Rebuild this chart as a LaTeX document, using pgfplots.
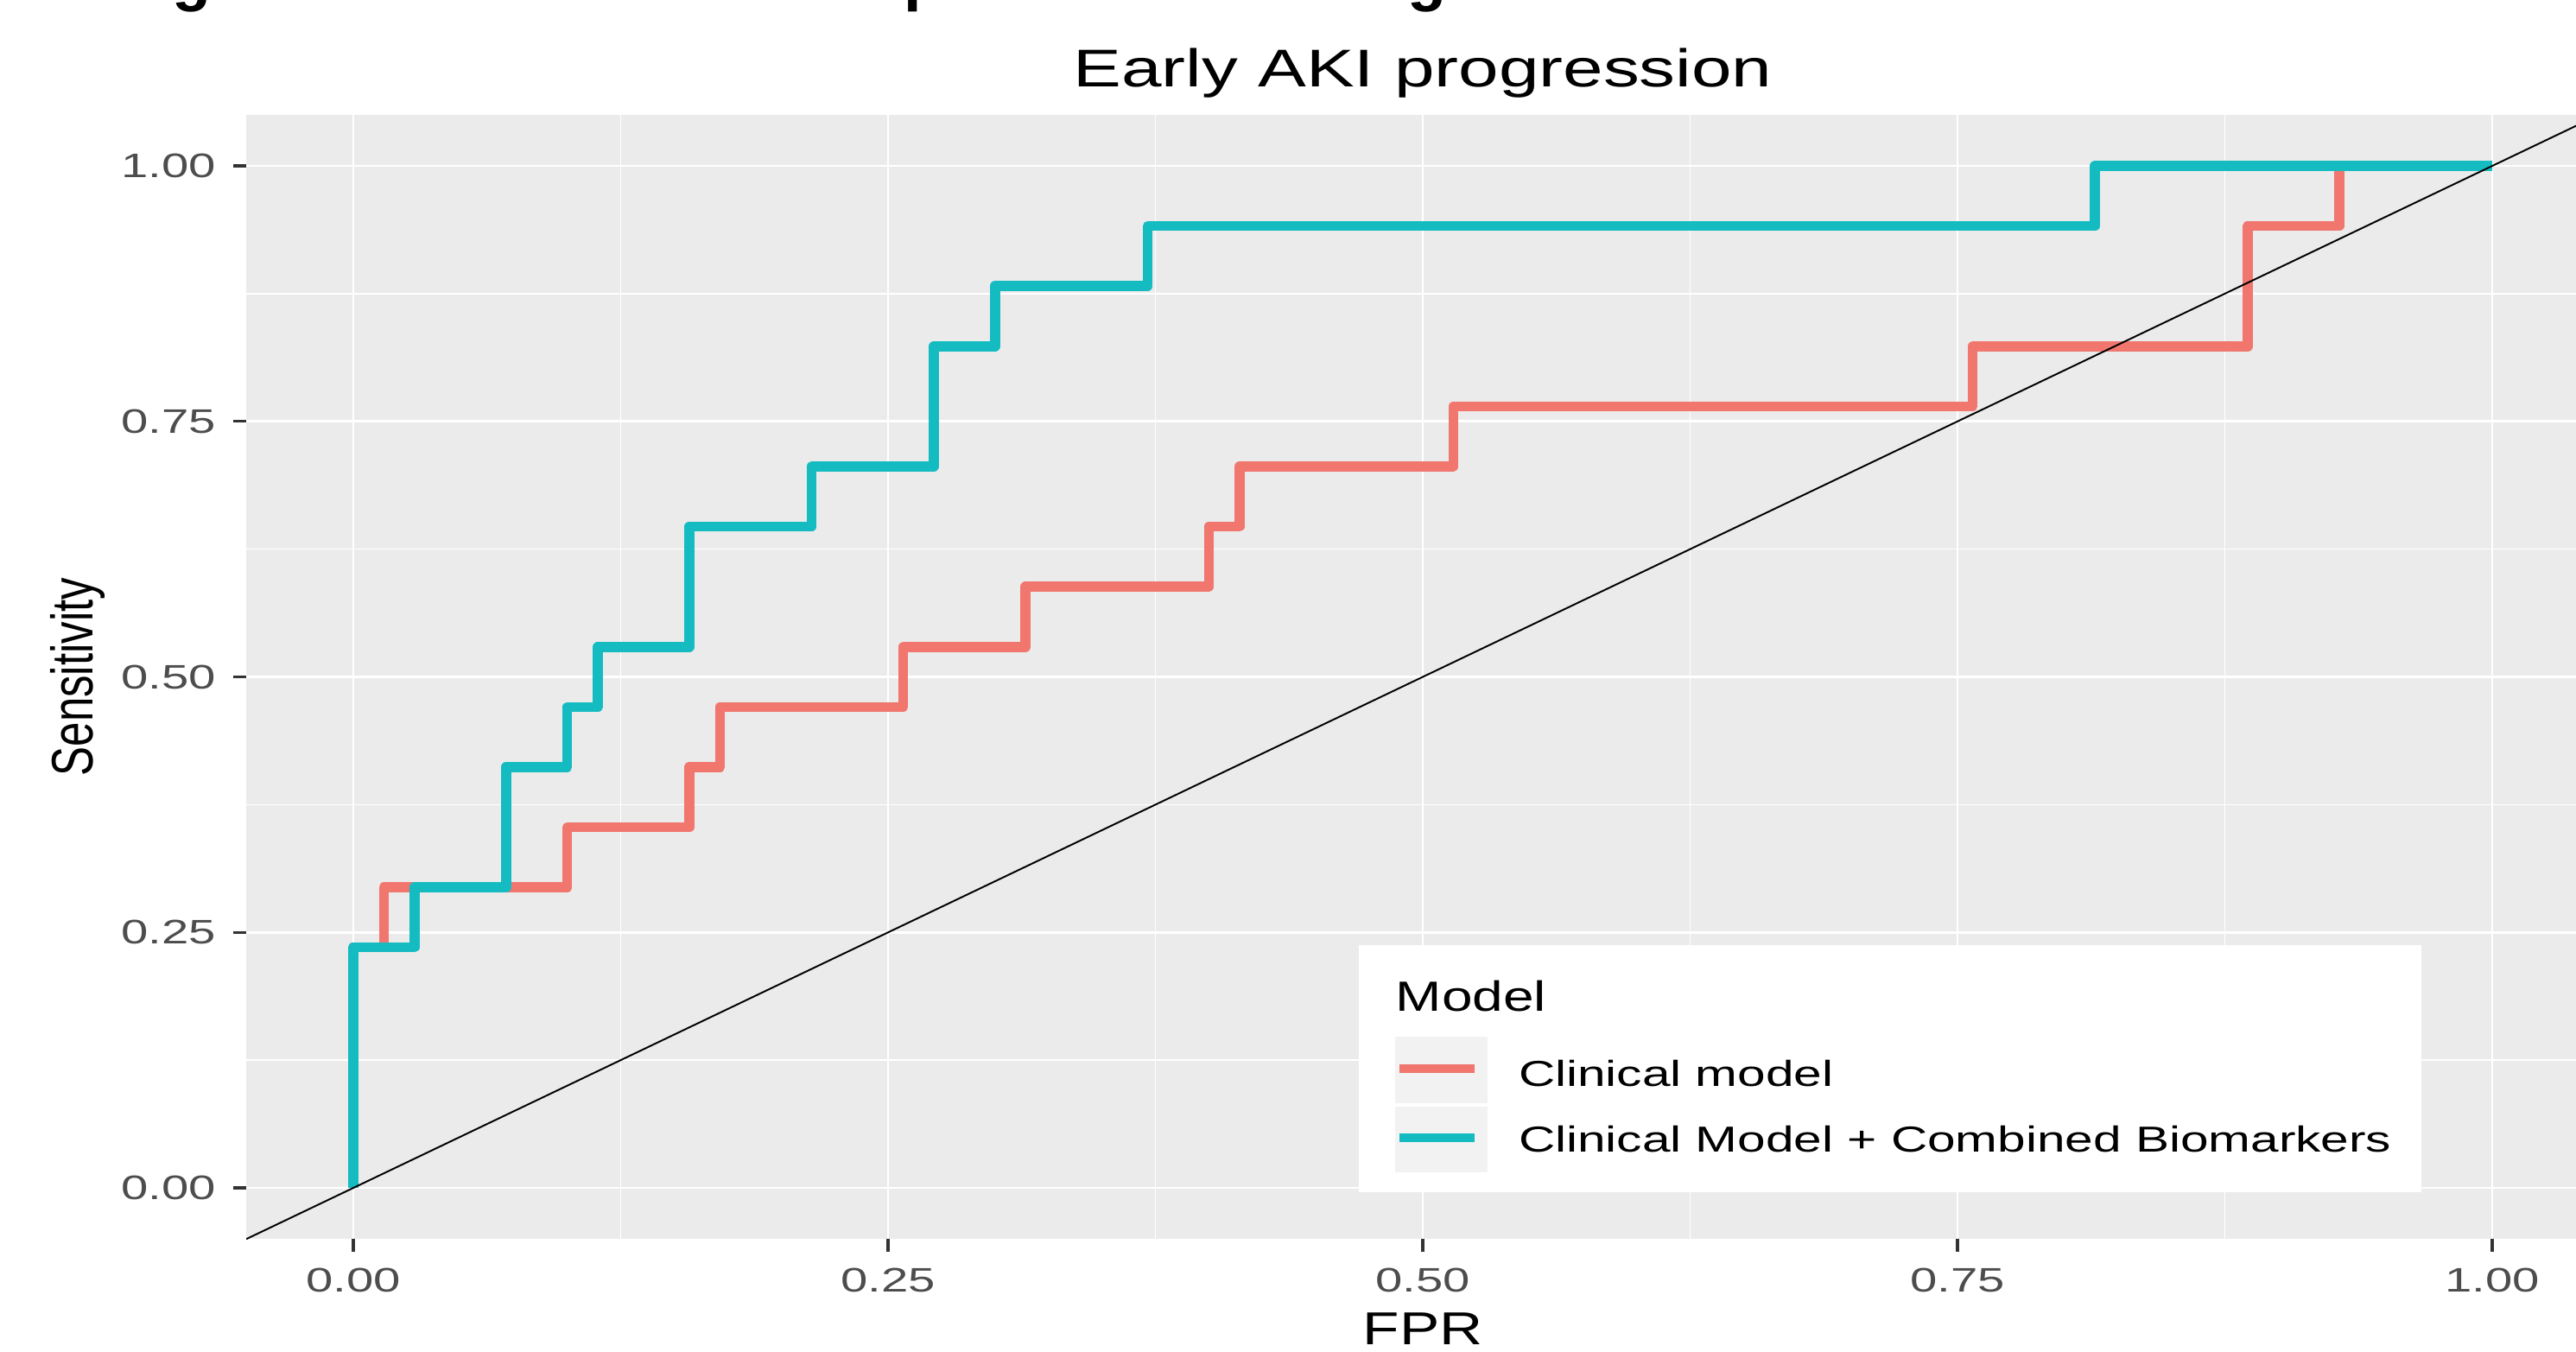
\documentclass[border=0pt]{standalone}
\usepackage{pgfplots}
\pgfplotsset{compat=1.18}
\usepackage{fontspec}
\setmainfont{Liberation Sans}
\definecolor{clin}{HTML}{F0766E}
\definecolor{comb}{HTML}{14BCC1}
\definecolor{panelbg}{HTML}{EBEBEB}
\definecolor{keybg}{HTML}{F2F2F2}
\definecolor{ticklab}{HTML}{4D4D4D}
\definecolor{tickcol}{HTML}{333333}
\begin{document}
\begin{tikzpicture}[x=1mm,y=1mm]
\useasboundingbox (0,0) rectangle (298.2,156.4);
\node[anchor=base west, inner sep=0pt, font=\fontsize{21}{25}\selectfont\bfseries] at (13.3,156.5) {Figure 4: ROC Curves for prediction of Stage 4 Death};
\begin{axis}[
  at={(28.52mm,12.98mm)}, anchor=south west,
  scale only axis, width=272.36mm, height=130.13mm,
  xmin=-0.05, xmax=1.05, ymin=-0.05, ymax=1.05,
  axis background/.style={fill=panelbg},
  axis line style={draw=none},
  tick align=outside, tick pos=left,
  major tick length=1.5mm, minor tick length=0pt,
  tick style={tickcol, line width=0.9pt},
  xtick={0,0.25,0.5,0.75,1}, ytick={0,0.25,0.5,0.75,1},
  xticklabels={0.00,0.25,0.50,0.75,1.00},
  yticklabels={0.00,0.25,0.50,0.75,1.00},
  minor tick num=1,
  grid=both,
  major grid style={white, line width=0.8pt},
  minor grid style={white, line width=0.4pt},
  ticklabel style={font=\fontsize{11.2}{13}\selectfont, text=ticklab},
  xticklabel style={anchor=north, inner sep=0pt, yshift=-1.8mm, xscale=1.43},
  yticklabel style={anchor=east, inner sep=0pt, xshift=-1.9mm, xscale=1.43},
  xlabel={FPR}, ylabel={Sensitivity},
  xlabel style={at={(axis description cs:0.5,-0.0936)}, anchor=base, font=\fontsize{15.2}{18}\selectfont, xscale=1.3},
  ylabel style={at={(axis description cs:-0.0717,0.5)}, anchor=center, font=\fontsize{14.5}{17}\selectfont, yscale=1.33},
  title={Early AKI progression},
  title style={at={(axis description cs:0.5,1.0247)}, anchor=base, yshift=-6pt, font=\fontsize{17.5}{21}\selectfont, xscale=1.36},
]
\addplot[clin, line width=3.3pt, line join=round] coordinates {
(0,0) (0,0.2353) (0.0143,0.2353) (0.0143,0.2941) (0.1,0.2941) (0.1,0.3529)
(0.1571,0.3529) (0.1571,0.4118) (0.1714,0.4118) (0.1714,0.4706) (0.2571,0.4706)
(0.2571,0.5294) (0.3143,0.5294) (0.3143,0.5882) (0.4,0.5882) (0.4,0.6471)
(0.4143,0.6471) (0.4143,0.7059) (0.5143,0.7059) (0.5143,0.7647) (0.7571,0.7647)
(0.7571,0.8235) (0.8857,0.8235) (0.8857,0.9412) (0.9286,0.9412) (0.9286,1) (1,1)};
\addplot[comb, line width=3.3pt, line join=round] coordinates {
(0,0) (0,0.2353) (0.0286,0.2353) (0.0286,0.2941) (0.0714,0.2941) (0.0714,0.4118)
(0.1,0.4118) (0.1,0.4706) (0.1143,0.4706) (0.1143,0.5294) (0.1571,0.5294)
(0.1571,0.6471) (0.2143,0.6471) (0.2143,0.7059) (0.2714,0.7059) (0.2714,0.8235)
(0.3,0.8235) (0.3,0.8824) (0.3714,0.8824) (0.3714,0.9412) (0.8143,0.9412)
(0.8143,1) (1,1)};
\addplot[black, line width=0.55pt] coordinates {(-0.05,-0.05) (1.05,1.05)};
\end{axis}
% legend
\fill[white] (157.3,18.4) rectangle (280.3,47.0);
\fill[keybg] (161.5,28.7) rectangle (172.2,36.4);
\fill[keybg] (161.5,20.7) rectangle (172.2,28.3);
\draw[clin, line width=2.8pt] (162.0,32.7) -- (170.7,32.7);
\draw[comb, line width=2.8pt] (162.0,24.7) -- (170.7,24.7);
\node[anchor=base west, inner sep=0pt, xscale=1.31, font=\fontsize{13.9}{16}\selectfont] at (161.5,39.4) {Model};
\node[anchor=base west, inner sep=0pt, xscale=1.4, font=\fontsize{11.9}{14}\selectfont] at (175.7,30.7) {Clinical model};
\node[anchor=base west, inner sep=0pt, xscale=1.4, font=\fontsize{11.9}{14}\selectfont] at (175.7,23.1) {Clinical Model + Combined Biomarkers};
\end{tikzpicture}
\end{document}
